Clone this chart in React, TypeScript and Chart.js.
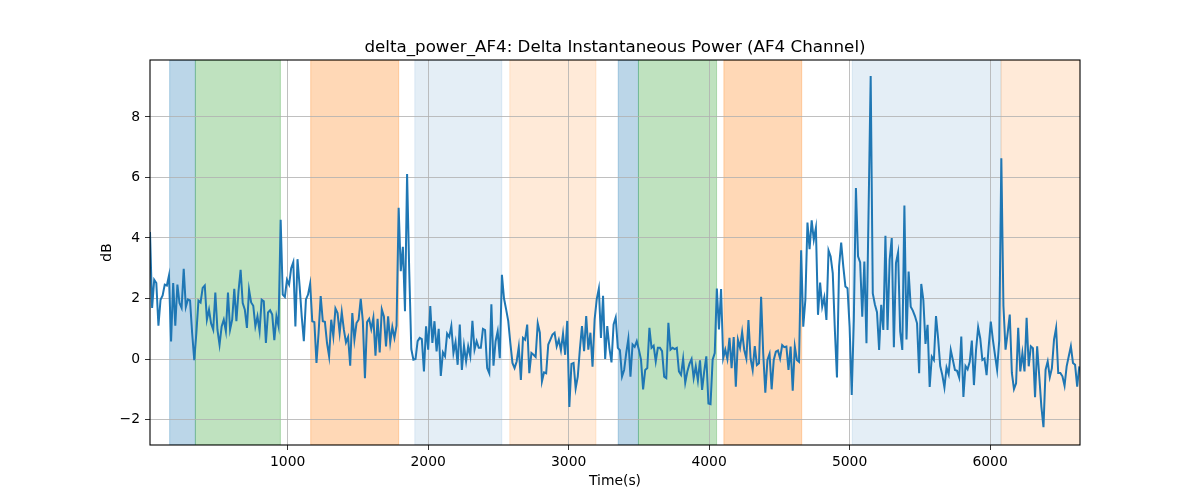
import React, { useEffect, useRef } from 'react';
import { Chart, registerables } from 'chart.js';

Chart.register(...registerables);

// sampling of the signal (seconds)
const T0 = 20;
const DT = 15;

// delta power of AF4 (dB), one value per sample
const DB_VALUES = [
  4.2, 1.69, 2.62, 2.51, 1.1, 1.96, 2.1, 2.46, 2.43, 2.76,
  0.58, 2.51, 1.1, 2.46, 1.85, 1.69, 2.98, 1.72, 1.97, 1.94,
  0.86, -0.04, 0.86, 1.93, 1.87, 2.35, 2.43, 1.3, 1.63, 1.17,
  0.97, 2.2, 0.97, 0.47, 1.08, 1.3, 0.92, 2.2, 0.97, 1.3,
  2.32, 1.25, 2.24, 2.95, 1.85, 1.63, 1.03, 2.29, 1.87, 1.76,
  1.08, 1.41, 0.92, 1.96, 1.91, 0.53, 1.54, 1.61, 1.47, 0.62,
  1.41, 1.08, 4.6, 2.13, 2.05, 2.62, 2.46, 3.0, 3.2, 1.08,
  3.3, 2.41, 1.41, 0.59, 1.97, 2.13, 2.49, 1.25, 1.22, -0.13,
  0.86, 2.08, 1.25, 1.23, 0.53, 0.09, 1.3, 0.75, 1.67, 1.52,
  0.86, 1.55, 0.97, 0.55, 0.73, -0.22, 1.52, 0.64, 1.19, 1.3,
  1.99, 1.25, -0.63, 1.22, 1.33, 0.99, 1.36, 0.11, 1.33, 0.22,
  1.64, 1.41, 0.42, 1.41, 0.55, 1.06, 0.7, 1.1, 5.0, 2.9,
  3.71, 1.58, 6.11, 2.96, 0.33, -0.02, 0.0, 0.59, 0.7, 0.66,
  -0.41, 1.08, 0.31, 1.75, 0.53, 1.25, 0.25, 1.0, -0.56, 0.22,
  0.09, 0.84, 0.73, 1.09, 0.2, 0.56, -0.19, 1.14, -0.36, 0.44,
  -0.08, 0.42, 0.09, 1.26, 0.31, 0.59, 0.37, 0.37, 1.0, 0.96,
  -0.3, -0.47, 1.81, -0.22, 0.59, 0.92, 0.03, 2.78, 2.0, 1.64,
  1.26, 0.53, -0.13, -0.3, -0.08, 0.4, -0.69, 0.7, 0.64, 1.14,
  -0.47, 0.2, 0.14, 0.07, 1.18, 0.87, -0.74, -0.44, -0.47, 0.48,
  0.64, 0.81, 0.87, 0.42, 0.64, 0.29, 0.84, 0.14, 1.26, -1.58,
  -0.16, -0.13, -0.97, -0.58, 0.33, 1.09, 0.26, 1.42, 0.31, 0.87,
  -0.25, 1.31, 1.98, 2.33, 0.7, 2.09, 0.0, 1.09, 0.37, -0.11,
  1.14, 1.37, 0.37, 0.29, -0.58, -0.36, 0.2, 0.67, -0.58, 0.48,
  0.4, 0.59, 0.31, -0.02, -1.0, -0.36, -0.3, 1.03, 0.37, 0.44,
  -0.08, 0.37, 0.37, 0.26, -0.58, -0.63, 1.2, 0.31, 0.37, 0.33,
  0.37, -0.41, -0.52, 0.01, -0.78, -0.41, -0.16, 0.0, -0.63, -0.24,
  -0.71, -0.04, -1.02, -0.41, 0.09, -1.47, -1.49, -0.02, 0.2, 2.33,
  0.98, 2.31, 0.03, 0.31, 0.0, 0.7, -0.3, 0.73, -0.91, 0.64,
  0.37, 0.89, 0.3, 0.02, 1.29, 0.02, -0.36, 0.43, -0.2, -0.14,
  2.06, 0.19, -1.11, -0.03, 0.17, -1.0, -0.03, 0.24, 0.28, 0.02,
  0.46, 0.39, 0.41, -0.36, 0.41, -1.05, 0.41, -0.03, -0.09, 3.59,
  1.07, 1.95, 4.51, 3.63, 4.58, 3.94, 4.33, 1.46, 2.53, 1.73,
  2.04, 1.29, 3.59, 3.39, 2.84, 0.96, -0.61, 3.06, 3.85, 3.06,
  2.4, 2.34, 1.07, -1.19, 1.29, 5.65, 3.39, 3.19, 1.4, 3.22,
  0.52, 4.9, 9.35, 2.17, 1.8, 1.55, 0.3, 1.79, 0.96, 4.07,
  0.96, 3.28, 4.0, 0.39, 3.17, 3.52, 0.91, 0.3, 5.07, 0.65,
  2.89, 1.73, 1.6, 1.42, 1.18, -0.47, 2.48, 1.95, 0.5, 1.13,
  -0.92, 0.08, -0.03, 1.42, 0.68, -0.23, -0.53, -0.94, -0.28, -0.5,
  0.3, -0.03, -0.36, -0.39, -0.61, 0.74, -1.25, -0.23, -0.34, -0.09,
  0.61, -0.86, 0.3, 1.05, 0.68, -0.03, 0.02, -0.53, 0.41, 1.24,
  0.63, 0.13, -0.36, 0.61, 6.63, 1.75, 0.31, 0.86, 1.47, -0.46,
  -0.99, -0.8, 1.03, -0.41, 0.2, -0.41, 1.36, -0.24, 0.42, 0.36,
  -1.26, 0.42, -0.57, -1.57, -2.25, -0.35, -0.08, -0.6, -0.3, 0.64,
  1.03, -0.46, -0.46, -0.57, -0.88, -0.24, 0.09, 0.42, -0.13, -0.19,
  -0.91, -0.24,
];

// shaded task segments (seconds)
const SEG_START = [160, 343, 1164, 1905, 2581, 3353, 3497, 4105, 5019, 6078];
const SEG_END = [343, 948, 1790, 2524, 3194, 3497, 4053, 4659, 6078, 6700];
const SEG_KIND = ['a', 'b', 'c', 'd', 'e', 'a', 'b', 'c', 'd', 'e'];

const X_TICKS = [1000, 2000, 3000, 4000, 5000, 6000];
const Y_TICKS = [-2, 0, 2, 4, 6, 8];

const X_MIN = 20;
const X_MAX = 6640;
const Y_MIN = -2.84;
const Y_MAX = 9.88;

const KIND_COLOR: Record<string, string> = {
  a: 'rgba(31,119,180,0.3)',
  b: 'rgba(44,160,44,0.3)',
  c: 'rgba(255,127,14,0.3)',
  d: 'rgba(31,119,180,0.12)',
  e: 'rgba(255,127,14,0.16)',
};

const FONT = 'DejaVu Sans';

const spansPlugin = {
  id: 'spans',
  beforeDraw(chart: any) {
    const { ctx, chartArea, scales } = chart;
    ctx.save();
    ctx.beginPath();
    ctx.rect(chartArea.left, chartArea.top, chartArea.width, chartArea.height);
    ctx.clip();
    SEG_START.forEach((s, i) => {
      const x1 = scales.x.getPixelForValue(s);
      const x2 = scales.x.getPixelForValue(SEG_END[i]);
      ctx.fillStyle = KIND_COLOR[SEG_KIND[i]];
      ctx.strokeStyle = KIND_COLOR[SEG_KIND[i]];
      ctx.lineWidth = 1;
      ctx.fillRect(x1, chartArea.top, x2 - x1, chartArea.height);
      ctx.strokeRect(x1, chartArea.top, x2 - x1, chartArea.height);
    });
    ctx.restore();
  },
};

// frame + titles placed like matplotlib
const frameAndTitles = {
  id: 'frameAndTitles',
  afterDraw(chart: any) {
    const { ctx, chartArea } = chart;
    const { left, right, top, bottom } = chartArea;
    ctx.save();
    ctx.strokeStyle = '#000';
    ctx.lineWidth = 1.1;
    ctx.strokeRect(left, top, right - left, bottom - top);

    ctx.fillStyle = '#000';
    ctx.textAlign = 'center';
    ctx.textBaseline = 'alphabetic';
    ctx.font = `16.7px "${FONT}"`;
    ctx.fillText('delta_power_AF4: Delta Instantaneous Power (AF4 Channel)', (left + right) / 2, top - 8.3);

    ctx.font = `13.9px "${FONT}"`;
    ctx.textBaseline = 'top';
    ctx.fillText('Time(s)', (left + right) / 2, 474);

    ctx.translate(107, (top + bottom) / 2);
    ctx.rotate(-Math.PI / 2);
    ctx.textBaseline = 'middle';
    ctx.fillText('dB', 0, 0);
    ctx.restore();
  },
};

const App: React.FC = () => {
  const canvasRef = useRef<HTMLCanvasElement | null>(null);
  const chartRef = useRef<Chart | null>(null);

  useEffect(() => {
    document.body.style.margin = '0';
    if (!canvasRef.current) return;
    const ctx = canvasRef.current.getContext('2d');
    if (!ctx) return;

    if (chartRef.current) chartRef.current.destroy();

    const points = DB_VALUES.map((v, i) => ({ x: T0 + i * DT, y: v }));

    chartRef.current = new Chart(ctx, {
      type: 'line',
      data: {
        datasets: [
          {
            label: 'delta_power_AF4',
            data: points,
            borderColor: '#1f77b4',
            borderWidth: 2,
            pointRadius: 0,
            tension: 0,
            fill: false,
          },
        ],
      },
      options: {
        animation: false,
        responsive: true,
        maintainAspectRatio: false,
        layout: { padding: { top: 60, right: 120, bottom: 0, left: 0 } },
        plugins: {
          legend: { display: false },
          title: { display: false },
          tooltip: { enabled: false },
        },
        scales: {
          x: {
            type: 'linear',
            min: X_MIN,
            max: X_MAX,
            afterBuildTicks: (scale: any) => {
              scale.ticks = X_TICKS.map((v) => ({ value: v }));
            },
            afterFit: (scale: any) => {
              scale.height = 55;
            },
            grid: {
              color: '#b0b0b0',
              lineWidth: 0.8,
              tickColor: '#000',
              tickLength: 5,
              drawTicks: true,
            },
            border: { display: false },
            ticks: {
              color: '#000',
              padding: 4,
              maxRotation: 0,
              font: { family: FONT, size: 13.9 },
              callback: (v: any) => String(v),
            },
          },
          y: {
            type: 'linear',
            min: Y_MIN,
            max: Y_MAX,
            afterBuildTicks: (scale: any) => {
              scale.ticks = Y_TICKS.map((v) => ({ value: v }));
            },
            afterFit: (scale: any) => {
              scale.width = 150;
            },
            grid: {
              color: '#b0b0b0',
              lineWidth: 0.8,
              tickColor: '#000',
              tickLength: 5,
              drawTicks: true,
            },
            border: { display: false },
            ticks: {
              color: '#000',
              padding: 5,
              font: { family: FONT, size: 13.9 },
              callback: (v: any) => (v < 0 ? '\u2212' + Math.abs(v) : String(v)),
            },
          },
        },
      },
      plugins: [spansPlugin, frameAndTitles],
    });

    return () => {
      if (chartRef.current) {
        chartRef.current.destroy();
        chartRef.current = null;
      }
    };
  }, []);

  return (
    <div style={{ position: 'relative', width: '1200px', height: '500px', background: '#fff' }}>
      <canvas ref={canvasRef}></canvas>
    </div>
  );
};

export default App;
